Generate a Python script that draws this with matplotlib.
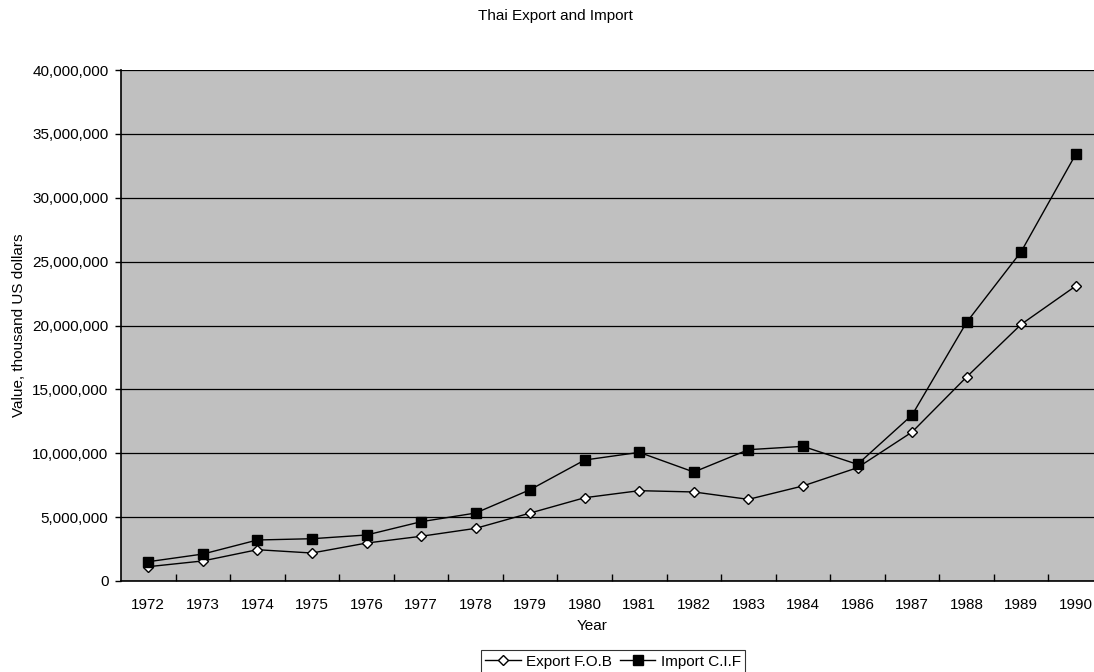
import matplotlib
matplotlib.use("Agg")
import matplotlib.pyplot as plt
from matplotlib.ticker import FuncFormatter, FixedLocator
import numpy as np

plt.rcParams['font.family'] = ['Liberation Sans', 'DejaVu Sans']

years = ["1972", "1973", "1974", "1975", "1976", "1977", "1978", "1979", "1980",
         "1981", "1982", "1983", "1984", "1986", "1987", "1988", "1989", "1990"]
export_fob = [1120000, 1570000, 2450000, 2190000, 2970000, 3500000, 4120000, 5320000,
              6520000, 7070000, 6970000, 6390000, 7440000, 8870000, 11660000,
              15970000, 20090000, 23090000]
import_cif = [1510000, 2110000, 3210000, 3310000, 3600000, 4640000, 5320000, 7150000,
              9470000, 10070000, 8530000, 10280000, 10540000, 9130000, 12990000,
              20250000, 25780000, 33400000]

FS = 11
W, H = 1094, 672
fig = plt.figure(figsize=(W / 100, H / 100), dpi=100)
fig.patch.set_facecolor("white")

left, right, top, bottom = 121, 1103, 70, 581
ax = fig.add_axes([left / W, 1 - bottom / H, (right - left) / W, (bottom - top) / H])
ax.set_facecolor("#C0C0C0")

x = np.arange(len(years))
ax.plot(x, export_fob, color="black", lw=1.0, marker="D", markersize=5,
        markerfacecolor="white", markeredgecolor="black", markeredgewidth=1.0,
        label="Export F.O.B", zorder=3)
ax.plot(x, import_cif, color="black", lw=1.0, marker="s", markersize=7,
        markerfacecolor="black", markeredgecolor="black",
        label="Import C.I.F", zorder=3)

ax.set_xlim(-0.5, len(years) - 0.5)
ax.set_ylim(0, 40000000)
ax.set_yticks(np.arange(0, 40000001, 5000000))
ax.yaxis.set_major_formatter(FuncFormatter(lambda v, p: f"{int(v):,}"))
ax.yaxis.grid(True, color="black", lw=0.9)
ax.set_axisbelow(True)

# category boundaries carry the tick marks, centres carry the labels
ax.xaxis.set_major_locator(FixedLocator(np.arange(0.5, len(years) - 0.5, 1)))
ax.xaxis.set_minor_locator(FixedLocator(x))
ax.set_xticklabels([], minor=False)
ax.set_xticklabels(years, minor=True)
ax.tick_params(axis="x", which="major", direction="in", length=5, width=1, color="black")
ax.tick_params(axis="x", which="minor", length=0, pad=12.5, labelsize=FS)
ax.tick_params(axis="y", direction="out", length=4, width=1, pad=5, labelsize=FS)

for s in ["top", "right"]:
    ax.spines[s].set_visible(False)
for s in ["left", "bottom"]:
    ax.spines[s].set_color("black")
    ax.spines[s].set_linewidth(1.2)

fig.text(555 / W, 1 - 16 / H, "Thai Export and Import", ha="center", va="center", fontsize=FS)
fig.text(592 / W, 1 - 626 / H, "Year", ha="center", va="center", fontsize=FS)
fig.text(19 / W, 1 - 325 / H, "Value, thousand US dollars", ha="center", va="center",
         rotation=90, fontsize=FS)

leg = fig.legend(loc="upper center", bbox_to_anchor=(613 / W, 1 - 650 / H), ncol=2,
                 frameon=True, fancybox=False, edgecolor="black", fontsize=FS,
                 handlelength=2.3, handletextpad=0.35, columnspacing=0.55,
                 borderpad=0.3, borderaxespad=0)
leg.get_frame().set_linewidth(0.8)

fig.savefig("out.png", dpi=100)
